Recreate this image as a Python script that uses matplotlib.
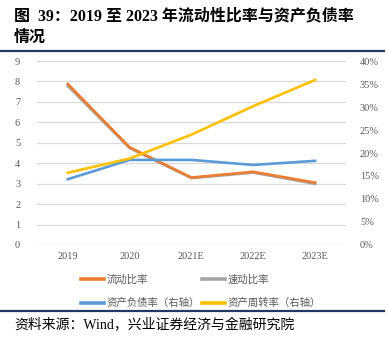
import matplotlib
matplotlib.use("Agg")
import matplotlib.pyplot as plt
from matplotlib.lines import Line2D
from matplotlib.ticker import FuncFormatter, MultipleLocator

plt.rcParams['font.family'] = ['Liberation Serif', 'Noto Sans CJK SC']

years = ["2019", "2020", "2021E", "2022E", "2023E"]
current_ratio = [7.88, 4.78, 3.30, 3.58, 3.05]
quick_ratio = [7.78, 4.74, 3.27, 3.54, 2.99]
debt_ratio = [14.3, 18.5, 18.5, 17.4, 18.3]        # %
turnover_ratio = [15.7, 18.8, 24.0, 30.2, 35.9]    # %

C_ORANGE = "#ED7D31"
C_GRAY = "#A5A5A5"
C_BLUE = "#5B9BD5"
C_YELLOW = "#FFC000"
TICK_C = "#595959"
RULE_C = "#1F3864"

fig = plt.figure(figsize=(3.88, 3.45), dpi=100)
ax = fig.add_axes([0.095, 0.29, 0.797, 0.533])
ax2 = ax.twinx()

x = range(len(years))
lw = 1.9
l_cur, = ax.plot(x, current_ratio, color=C_ORANGE, lw=lw, label="流动比率", zorder=3)
l_quick, = ax.plot(x, quick_ratio, color=C_GRAY, lw=lw, label="速动比率", zorder=2)
l_debt, = ax2.plot(x, debt_ratio, color=C_BLUE, lw=lw, label="资产负债率（右轴）")
l_turn, = ax2.plot(x, turnover_ratio, color=C_YELLOW, lw=lw, label="资产周转率（右轴）")

ax.set_xlim(-0.5, 4.5)
ax.set_ylim(0, 9)
ax.yaxis.set_major_locator(MultipleLocator(1))
ax2.set_ylim(0, 40)
ax2.yaxis.set_major_locator(MultipleLocator(5))
ax2.yaxis.set_major_formatter(FuncFormatter(lambda v, p: f"{v:.0f}%"))

ax.set_xticks(list(x))
ax.set_xticklabels(years)
ax.grid(axis="y", color="#D9D9D9", lw=0.9)
ax.set_axisbelow(True)
for a in (ax, ax2):
    for s in a.spines.values():
        s.set_visible(False)
    a.tick_params(length=0, labelsize=7.5, colors=TICK_C)
ax.tick_params(axis="y", pad=12)
ax2.tick_params(axis="y", pad=10)
ax.tick_params(axis="x", pad=5)

# column-major fill: first column = 流动比率 / 资产负债率, second = 速动比率 / 资产周转率
handles = [l_cur, l_debt, l_quick, l_turn]
leg = fig.legend(handles, [h.get_label() for h in handles], ncol=2, loc="upper left",
                 bbox_to_anchor=(0.185, 0.232), frameon=False, handlelength=2.2,
                 handletextpad=0.25, columnspacing=0.2, labelspacing=1.3,
                 prop={'family': ['Noto Sans CJK SC'], 'size': 7.5})
for t in leg.get_texts():
    t.set_color(TICK_C)
for lh in leg.get_lines():
    lh.set_linewidth(2.6)

fig.text(0.036, 0.975, "图  39：2019 至 2023 年流动性比率与资产负债率\n情况", fontsize=11.5,
         fontweight="bold", va="top", ha="left", linespacing=1.4)
fig.add_artist(Line2D([0.0, 0.99], [1 - 50.5 / 345] * 2, color=RULE_C, lw=1.6))
fig.add_artist(Line2D([0.0, 0.99], [1 - 311 / 345] * 2, color=RULE_C, lw=1.6))
fig.text(0.036, 1 - 325 / 345, "资料来源：Wind，兴业证券经济与金融研究院", fontsize=10,
         va="center", ha="left")

fig.savefig("out.png", dpi=100)
